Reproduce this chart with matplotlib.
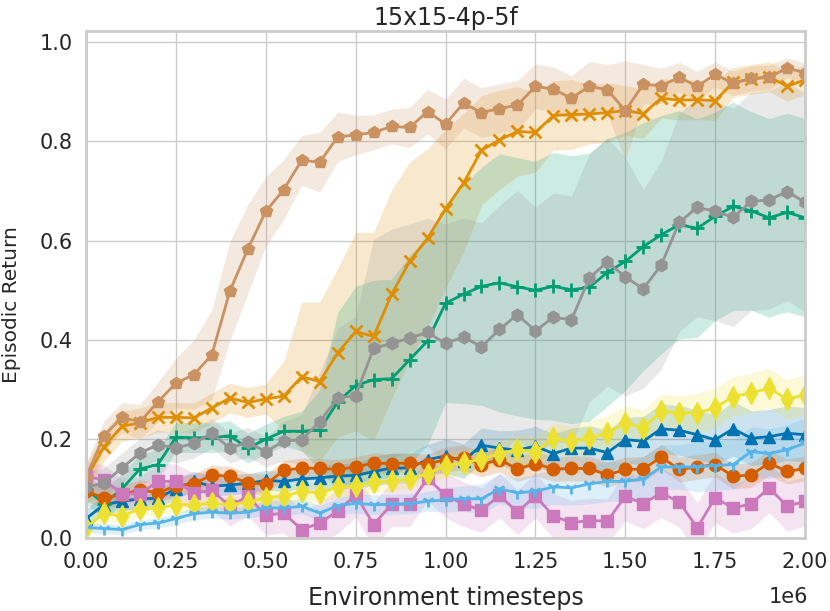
import matplotlib
matplotlib.use("Agg")
import matplotlib.pyplot as plt
import seaborn as sns
import numpy as np


# environment timesteps, one point every 50k steps
timesteps = np.arange(0, 2_000_001, 50_000)

# mean episodic return per method
tan = [0.122, 0.207, 0.244, 0.235, 0.275, 0.313, 0.330, 0.370, 0.498, 0.583,
       0.659, 0.703, 0.762, 0.758, 0.809, 0.813, 0.818, 0.830, 0.828, 0.860,
       0.835, 0.877, 0.858, 0.866, 0.873, 0.911, 0.905, 0.887, 0.911, 0.904,
       0.862, 0.915, 0.912, 0.929, 0.911, 0.935, 0.917, 0.927, 0.929, 0.948, 0.938]
orange = [0.120, 0.185, 0.226, 0.233, 0.244, 0.244, 0.243, 0.263, 0.283, 0.274,
          0.281, 0.287, 0.326, 0.316, 0.374, 0.417, 0.407, 0.492, 0.558, 0.605,
          0.664, 0.716, 0.782, 0.803, 0.820, 0.818, 0.852, 0.854, 0.855, 0.858,
          0.862, 0.856, 0.887, 0.883, 0.884, 0.882, 0.919, 0.925, 0.930, 0.911, 0.924]
green = [0.100, 0.070, 0.100, 0.140, 0.149, 0.204, 0.203, 0.203, 0.207, 0.182,
         0.200, 0.216, 0.216, 0.219, 0.275, 0.308, 0.320, 0.322, 0.360, 0.398,
         0.474, 0.492, 0.508, 0.515, 0.507, 0.500, 0.508, 0.501, 0.506, 0.536,
         0.558, 0.588, 0.612, 0.632, 0.625, 0.649, 0.669, 0.660, 0.646, 0.657, 0.646]
gray = [0.103, 0.112, 0.142, 0.172, 0.189, 0.182, 0.192, 0.212, 0.182, 0.194,
        0.175, 0.196, 0.199, 0.235, 0.283, 0.288, 0.383, 0.393, 0.404, 0.415,
        0.393, 0.406, 0.386, 0.421, 0.451, 0.418, 0.446, 0.440, 0.525, 0.557,
        0.527, 0.503, 0.551, 0.637, 0.667, 0.659, 0.647, 0.679, 0.682, 0.699, 0.677]
yellow = [0.022, 0.051, 0.045, 0.060, 0.061, 0.068, 0.068, 0.071, 0.068, 0.073,
          0.082, 0.085, 0.095, 0.092, 0.103, 0.105, 0.113, 0.115, 0.120, 0.130,
          0.147, 0.152, 0.160, 0.171, 0.179, 0.175, 0.202, 0.196, 0.202, 0.212,
          0.233, 0.223, 0.256, 0.253, 0.253, 0.263, 0.286, 0.293, 0.303, 0.280, 0.290]
blue = [0.040, 0.068, 0.075, 0.080, 0.081, 0.100, 0.115, 0.105, 0.108, 0.111,
        0.117, 0.115, 0.120, 0.122, 0.126, 0.127, 0.135, 0.142, 0.142, 0.159,
        0.166, 0.156, 0.188, 0.182, 0.178, 0.186, 0.171, 0.182, 0.182, 0.173,
        0.199, 0.196, 0.221, 0.218, 0.209, 0.199, 0.221, 0.202, 0.205, 0.212, 0.209]
red = [0.095, 0.082, 0.088, 0.098, 0.092, 0.106, 0.110, 0.128, 0.125, 0.112,
       0.109, 0.137, 0.142, 0.141, 0.139, 0.144, 0.152, 0.151, 0.152, 0.150,
       0.159, 0.163, 0.149, 0.159, 0.140, 0.151, 0.140, 0.141, 0.141, 0.128,
       0.139, 0.140, 0.164, 0.139, 0.144, 0.149, 0.125, 0.128, 0.152, 0.135, 0.141]
pink = [0.125, 0.118, 0.090, 0.090, 0.115, 0.115, 0.092, 0.097, 0.065, 0.085,
        0.047, 0.051, 0.018, 0.031, 0.055, 0.088, 0.028, 0.069, 0.069, 0.121,
        0.087, 0.069, 0.057, 0.087, 0.053, 0.086, 0.045, 0.032, 0.036, 0.035,
        0.085, 0.070, 0.092, 0.073, 0.022, 0.082, 0.061, 0.070, 0.102, 0.065, 0.075]
lightblue = [0.022, 0.020, 0.018, 0.028, 0.031, 0.040, 0.050, 0.053, 0.051, 0.053,
             0.062, 0.061, 0.065, 0.051, 0.066, 0.071, 0.068, 0.069, 0.070, 0.075,
             0.078, 0.080, 0.080, 0.100, 0.092, 0.095, 0.104, 0.102, 0.110, 0.115,
             0.115, 0.120, 0.144, 0.144, 0.144, 0.147, 0.149, 0.175, 0.171, 0.179, 0.192]

# half width of the shaded bands
tan_sd = [0.03, 0.03, 0.03, 0.035, 0.04, 0.05, 0.07, 0.09, 0.10, 0.09,
          0.07, 0.06, 0.05, 0.06, 0.05, 0.04, 0.035, 0.035, 0.04, 0.045,
          0.05, 0.05, 0.05, 0.05, 0.05, 0.045, 0.045, 0.045, 0.05, 0.05,
          0.10, 0.04, 0.035, 0.03, 0.03, 0.025, 0.025, 0.025, 0.025, 0.02, 0.02]
orange_sd = [0.03, 0.03, 0.03, 0.03, 0.03, 0.03, 0.03, 0.03, 0.03, 0.03,
             0.03, 0.07, 0.15, 0.16, 0.17, 0.20, 0.21, 0.21, 0.20, 0.18,
             0.16, 0.14, 0.11, 0.10, 0.09, 0.08, 0.07, 0.07, 0.06, 0.06,
             0.05, 0.05, 0.04, 0.04, 0.04, 0.04, 0.03, 0.03, 0.03, 0.03, 0.03]
green_sd = [0.03, 0.03, 0.03, 0.03, 0.03, 0.03, 0.03, 0.03, 0.03, 0.03,
            0.03, 0.03, 0.04, 0.08, 0.18, 0.20, 0.20, 0.20, 0.21, 0.21,
            0.20, 0.22, 0.24, 0.26, 0.26, 0.26, 0.27, 0.27, 0.27, 0.27,
            0.26, 0.25, 0.24, 0.23, 0.22, 0.21, 0.21, 0.20, 0.20, 0.20, 0.20]
gray_sd = [0.03, 0.03, 0.03, 0.03, 0.03, 0.03, 0.03, 0.03, 0.03, 0.03,
           0.03, 0.04, 0.05, 0.10, 0.14, 0.16, 0.22, 0.23, 0.23, 0.23,
           0.24, 0.24, 0.25, 0.25, 0.25, 0.25, 0.25, 0.25, 0.25, 0.25,
           0.24, 0.20, 0.21, 0.22, 0.22, 0.22, 0.22, 0.22, 0.22, 0.22, 0.22]
yellow_sd = [0.015, 0.015, 0.015, 0.015, 0.015, 0.015, 0.015, 0.015, 0.015, 0.015,
             0.02, 0.02, 0.02, 0.02, 0.02, 0.02, 0.02, 0.02, 0.02, 0.02,
             0.025, 0.025, 0.025, 0.025, 0.03, 0.03, 0.03, 0.03, 0.035, 0.035,
             0.035, 0.035, 0.035, 0.035, 0.04, 0.04, 0.04, 0.04, 0.04, 0.04, 0.04]
blue_sd = [0.02, 0.02, 0.02, 0.02, 0.02, 0.02, 0.02, 0.02, 0.02, 0.02,
           0.02, 0.02, 0.02, 0.025, 0.025, 0.025, 0.03, 0.03, 0.03, 0.03,
           0.035, 0.035, 0.035, 0.035, 0.04, 0.04, 0.04, 0.04, 0.045, 0.045,
           0.045, 0.05, 0.05, 0.05, 0.05, 0.05, 0.055, 0.055, 0.055, 0.055, 0.055]
red_sd = [0.02, 0.02, 0.02, 0.02, 0.02, 0.02, 0.02, 0.02, 0.02, 0.02,
          0.02, 0.02, 0.02, 0.02, 0.02, 0.02, 0.02, 0.02, 0.02, 0.02,
          0.025, 0.025, 0.025, 0.025, 0.025, 0.025, 0.025, 0.025, 0.025, 0.025,
          0.025, 0.025, 0.025, 0.025, 0.025, 0.025, 0.025, 0.025, 0.025, 0.025, 0.025]
pink_sd = [0.03, 0.03, 0.03, 0.035, 0.035, 0.035, 0.04, 0.04, 0.04, 0.04,
           0.04, 0.04, 0.04, 0.04, 0.045, 0.045, 0.045, 0.045, 0.045, 0.045,
           0.045, 0.045, 0.045, 0.045, 0.045, 0.045, 0.045, 0.045, 0.045, 0.045,
           0.05, 0.05, 0.05, 0.05, 0.05, 0.05, 0.05, 0.05, 0.05, 0.05, 0.05]
lightblue_sd = [0.01, 0.01, 0.01, 0.01, 0.01, 0.012, 0.012, 0.012, 0.012, 0.012,
                0.015, 0.015, 0.015, 0.015, 0.015, 0.02, 0.02, 0.02, 0.02, 0.02,
                0.025, 0.025, 0.03, 0.03, 0.03, 0.035, 0.035, 0.035, 0.04, 0.04,
                0.04, 0.045, 0.045, 0.045, 0.05, 0.05, 0.05, 0.05, 0.05, 0.05, 0.05]


sns.set_theme(style="whitegrid")
pal = sns.color_palette("colorblind")

# (mean, half width, colour, marker, marker size), drawn in this order
runs = [
	(blue,      blue_sd,      pal[0], "^", 9),
	(orange,    orange_sd,    pal[1], "x", 9),
	(green,     green_sd,     pal[2], "+", 10),
	(red,       red_sd,       pal[3], "o", 9),
	(pink,      pink_sd,      pal[4], "s", 8),
	(tan,       tan_sd,       pal[5], "p", 9),
	(gray,      gray_sd,      pal[7], "h", 9),
	(yellow,    yellow_sd,    pal[8], "d", 11),
	(lightblue, lightblue_sd, pal[9], "1", 9),
]

fig, ax = plt.subplots(figsize=(8.3, 6.11), dpi=100)
fig.subplots_adjust(left=0.1036, right=0.970, bottom=0.1187, top=0.9498)

for mean, sd, col, mk, ms in runs :
	mean = np.array(mean)
	sd = np.array(sd)
	ax.fill_between(timesteps, mean - sd, mean + sd, color=col, alpha=0.2, linewidth=0)
	ax.plot(timesteps, mean, color=col, marker=mk, markersize=ms,
	        markeredgewidth=2 if mk in "x+1" else 1, linewidth=2)

ax.set_xlim(0, 2_000_000)
ax.set_ylim(0, 1.023)
ax.set_xticks(np.arange(0, 2_000_001, 250_000))
ax.set_xticklabels([f"{v/1e6:.2f}" for v in np.arange(0, 2_000_001, 250_000)])
ax.set_yticks([0.0, 0.2, 0.4, 0.6, 0.8, 1.0])
ax.tick_params(labelsize=15)

# scale factor written by hand, placed like the reference
ax.text(1.004, -0.115, "1e6", transform=ax.transAxes, ha="right", va="center",
        fontsize=15, color=".15")

ax.set_xlabel("Environment timesteps", fontsize=17, va="top")
ax.xaxis.set_label_coords(0.5, -0.094)
ax.set_ylabel("Episodic Return", fontsize=14.5)
ax.yaxis.set_label_coords(-0.091, 0.46)
ax.set_title("15x15-4p-5f", fontsize=17, pad=4)

for s in ax.spines.values() :
	s.set_linewidth(2)

fig.savefig("out.png", dpi=100)
plt.close(fig)
